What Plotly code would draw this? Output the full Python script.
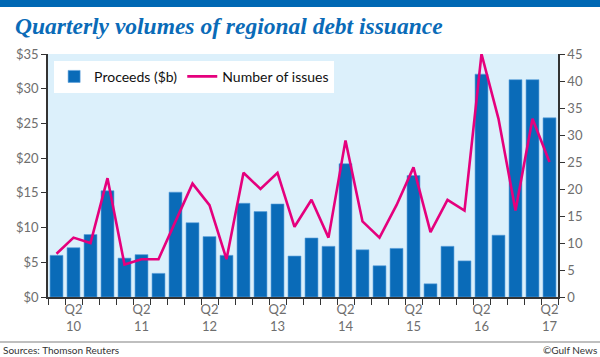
import plotly.graph_objects as go

quarters = list(range(30))  # 2010 Q1 .. 2017 Q2
proceeds = [6.0, 7.1, 9.0, 15.3, 5.6, 6.1, 3.4, 15.1, 10.7, 8.7, 6.0, 13.5,
            12.3, 13.4, 5.9, 8.5, 7.3, 19.2, 6.8, 4.5, 7.0, 17.5, 1.9, 7.3,
            5.2, 32.1, 8.9, 31.3, 31.3, 25.8]
issues = [8, 11, 10, 22, 6, 7, 7, 14, 21, 17, 7, 23,
          20, 23, 13, 18, 11, 29, 14, 11, 17, 24, 12, 18,
          16, 45, 33, 16, 33, 25]
tick_pos = [1, 5, 9, 13, 17, 21, 25, 29]
tick_text = ["Q2<br>10", "Q2<br>11", "Q2<br>12", "Q2<br>13",
             "Q2<br>14", "Q2<br>15", "Q2<br>16", "Q2<br>17"]
left_ticks = [0, 5, 10, 15, 20, 25, 30, 35]
left_text = ["$" + str(v) for v in left_ticks]
right_ticks = [0, 5, 10, 15, 20, 25, 30, 35, 40, 45]

BLUE = "#0a6bb8"
PINK = "#e5007d"
GRAY = "#6e6e6e"
FONT = "Lato"

fig = go.Figure()
fig.add_trace(go.Bar(x=quarters, y=proceeds, name="Proceeds ($b)",
                     marker=dict(color=BLUE, line=dict(color="#5aa0dc", width=0.6)),
                     width=0.76))
fig.add_trace(go.Scatter(x=quarters, y=issues, name="Number of issues", yaxis="y2",
                         mode="lines", line=dict(color=PINK, width=2.6)))

fig.update_layout(
    width=600, height=357,
    margin=dict(l=48, r=42, t=54, b=60),
    paper_bgcolor="white", plot_bgcolor="#dcf0fb",
    showlegend=True,
    legend=dict(orientation="h", x=0.012, y=0.972, xanchor="left", yanchor="top",
                bgcolor="white", font=dict(family=FONT, size=14, color="#111"),
                itemwidth=30, tracegroupgap=0),
    xaxis=dict(range=[-0.5, 29.5], tickmode="array", tickvals=tick_pos, ticktext=tick_text,
               ticks="", showgrid=False, zeroline=False, showline=True,
               linecolor="#333", linewidth=1.5,
               tickfont=dict(family=FONT, size=13, color=GRAY),
               minor=dict(ticks="outside", tickmode="linear", tick0=-0.5, dtick=1,
                          ticklen=6, tickcolor="#333", tickwidth=1, showgrid=False)),
    yaxis=dict(range=[0, 35], tickmode="array", tickvals=left_ticks, ticktext=left_text,
               ticks="outside", ticklen=5, tickcolor="#333", showgrid=False,
               zeroline=False, showline=True, linecolor="#333", linewidth=1.5,
               tickfont=dict(family=FONT, size=13, color=GRAY)),
    yaxis2=dict(range=[0, 45], overlaying="y", side="right", tickmode="array",
                tickvals=right_ticks, ticks="outside", ticklen=5, tickcolor="#333",
                showgrid=False, zeroline=False, showline=True, linecolor="#333",
                linewidth=1.5, tickfont=dict(family=FONT, size=13, color=GRAY)),
    bargap=0.2,
)

def px_y(p):
    return (297 - p) / 243.0

def px_x(p):
    return (p - 48) / 510.0

fig.add_shape(type="rect", xref="paper", yref="paper", x0=px_x(0), x1=px_x(600),
              y0=px_y(7), y1=px_y(0), fillcolor="#0068b4", line=dict(width=0), layer="above")
fig.add_shape(type="line", xref="paper", yref="paper", x0=px_x(0), x1=px_x(600),
              y0=px_y(342), y1=px_y(342), line=dict(color="#aaaaaa", width=1.5))

fig.add_annotation(text="<b><i>Quarterly volumes of regional debt issuance</i></b>",
                   xref="paper", yref="paper", x=px_x(13), y=px_y(26), xanchor="left",
                   yanchor="middle", showarrow=False,
                   font=dict(family="Liberation Serif", size=23.5, color="#0a6bb8"))
fig.add_annotation(text="Sources: Thomson Reuters", xref="paper", yref="paper",
                   x=px_x(1), y=px_y(350), xanchor="left", yanchor="middle",
                   showarrow=False, font=dict(family=FONT, size=10, color="#333"))
fig.add_annotation(text="©Gulf News", xref="paper", yref="paper",
                   x=px_x(599), y=px_y(350), xanchor="right", yanchor="middle",
                   showarrow=False, font=dict(family=FONT, size=10, color="#333"))

fig.write_html("out.html", config={"displayModeBar": False},
               post_script="document.body.style.margin='0';document.body.style.overflow='hidden';")
